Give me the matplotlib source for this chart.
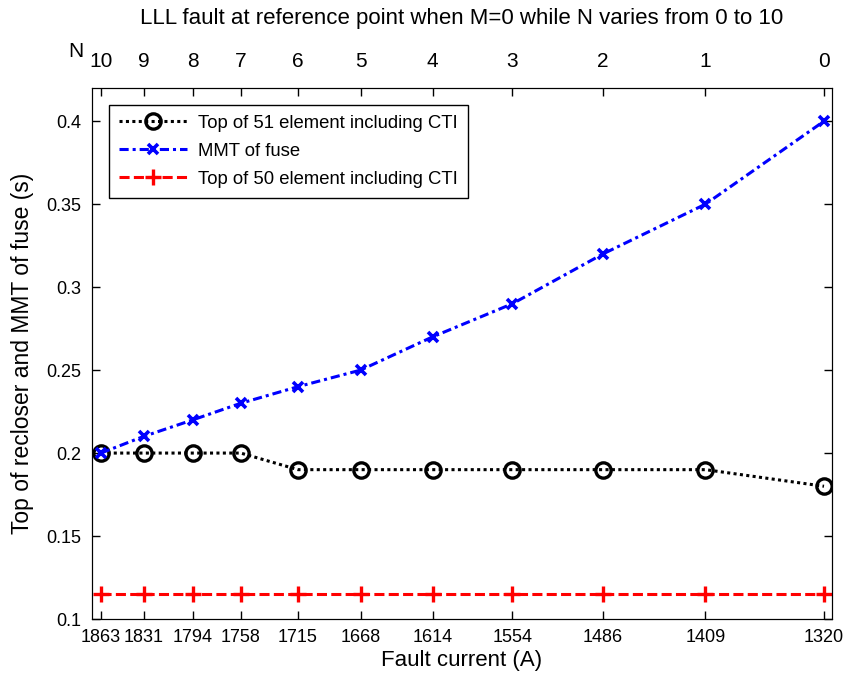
import matplotlib
matplotlib.use("Agg")
import matplotlib.pyplot as plt

# fault current at the reference point (A), N = number of DGs
current = [1863, 1831, 1794, 1758, 1715, 1668, 1614, 1554, 1486, 1409, 1320]
n_values = [10, 9, 8, 7, 6, 5, 4, 3, 2, 1, 0]
top_51 = [0.20, 0.20, 0.20, 0.20, 0.19, 0.19, 0.19, 0.19, 0.19, 0.19, 0.18]
mmt_fuse = [0.20, 0.21, 0.22, 0.23, 0.24, 0.25, 0.27, 0.29, 0.32, 0.35, 0.40]
top_50 = [0.115] * 11
y_ticks = [0.1, 0.15, 0.2, 0.25, 0.3, 0.35, 0.4]

plt.rcParams['font.family'] = ['Liberation Sans', 'DejaVu Sans']
plt.rcParams['font.size'] = 13

fig = plt.figure(figsize=(8.48, 6.79), dpi=100)
ax = fig.add_axes([92 / 848, 1 - 619 / 679, 740 / 848, 531 / 679])

lw = 2.2
ax.plot(current, top_51, color='black', lw=lw, dashes=(1, 1.1),
        marker='o', ms=11, mew=2.4, mfc='none',
        label='Top of 51 element including CTI')
ax.plot(current, mmt_fuse, color='blue', lw=lw, dashes=(3, 1.3, 1, 1.3),
        marker='x', ms=6.5, mew=2.6, label='MMT of fuse')
ax.plot(current, top_50, color='red', lw=lw, dashes=(3.3, 1.4),
        marker='+', ms=12, mew=2.4, label='Top of 50 element including CTI')

ax.set_xlim(1869.7, 1314)
ax.set_ylim(0.1, 0.42)
ax.set_xticks(current)
ax.set_xticklabels([str(c) for c in current])
ax.set_yticks(y_ticks)
ax.set_yticklabels([f"{v:g}" for v in y_ticks])
ax.tick_params(direction='in', length=6, width=1, right=True, top=False)
ax.tick_params(axis='y', pad=7.5)
ax.tick_params(axis='x', pad=7)
ax.set_xlabel('Fault current (A)', fontsize=16, labelpad=3)
ax.set_ylabel('Top of recloser and MMT of fuse (s)', fontsize=16.5, labelpad=9)

leg = ax.legend(loc='upper left', fancybox=False, edgecolor='black',
                framealpha=1, handlelength=3.7, handletextpad=0.6,
                borderaxespad=0.9, borderpad=0.55, labelspacing=0.6,
                fontsize=13.3)
leg.get_frame().set_linewidth(1)

top = ax.twiny()
top.set_xlim(ax.get_xlim())
top.set_xticks(current)
top.set_xticklabels([str(n) for n in n_values], fontsize=15)
top.tick_params(direction='in', length=6, width=1, pad=12)
top.text(-0.012, 1.05, 'N', transform=top.transAxes, ha='right',
         va='bottom', fontsize=15)
top.set_title('LLL fault at reference point when M=0 while N varies from 0 to 10',
              pad=46, fontsize=16)

fig.savefig('out.png', dpi=100)
